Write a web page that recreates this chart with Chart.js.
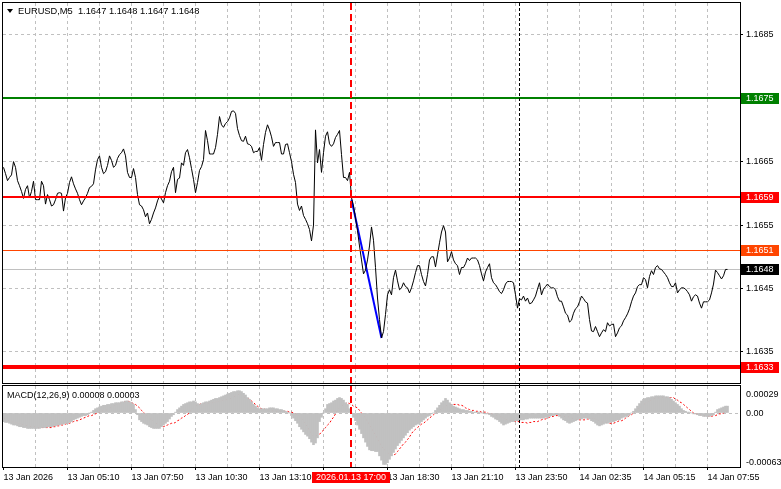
<!DOCTYPE html>
<html>
<head>
<meta charset="utf-8">
<script src="https://cdn.jsdelivr.net/npm/chart.js@4.4.1/dist/chart.umd.min.js"></script>
<style>
  body { margin: 0; background: #fff; width: 781px; height: 489px; overflow: hidden; position: relative; }
  #precio { position: absolute; left: 0; top: 0; }
  #macd { position: absolute; left: 0; top: 385px; }
</style>
</head>
<body>
<canvas id="precio" width="781" height="385"></canvas>
<canvas id="macd" width="781" height="104"></canvas>
<script>
// DATOS: una vela de 5 minutos por posicion (cierre)
const cierres = [
  1.16641,1.16631,1.16620,1.16625,1.16629,1.16650,1.16641,1.16620,1.16612,1.16603,
  1.16592,1.16606,1.16612,1.16593,1.16603,1.16619,1.16590,1.16590,1.16590,1.16619,
  1.16612,1.16583,1.16598,1.16590,1.16580,1.16582,1.16590,1.16600,1.16601,1.16600,
  1.16572,1.16593,1.16600,1.16617,1.16626,1.16615,1.16607,1.16600,1.16590,1.16582,
  1.16588,1.16593,1.16600,1.16609,1.16611,1.16615,1.16637,1.16653,1.16659,1.16641,
  1.16631,1.16634,1.16644,1.16659,1.16652,1.16641,1.16644,1.16655,1.16661,1.16664,
  1.16670,1.16659,1.16633,1.16625,1.16625,1.16639,1.16625,1.16598,1.16582,1.16580,
  1.16574,1.16563,1.16569,1.16552,1.16559,1.16569,1.16577,1.16588,1.16596,1.16591,
  1.16585,1.16601,1.16612,1.16619,1.16634,1.16641,1.16601,1.16622,1.16624,1.16648,
  1.16644,1.16664,1.16669,1.16656,1.16639,1.16622,1.16601,1.16617,1.16636,1.16642,
  1.16653,1.16699,1.16683,1.16662,1.16662,1.16662,1.16672,1.16693,1.16721,1.16708,
  1.16704,1.16710,1.16713,1.16719,1.16729,1.16730,1.16726,1.16702,1.16691,1.16683,
  1.16682,1.16690,1.16678,1.16677,1.16674,1.16664,1.16666,1.16666,1.16672,1.16652,
  1.16677,1.16696,1.16708,1.16700,1.16689,1.16674,1.16680,1.16680,1.16680,1.16662,
  1.16662,1.16677,1.16678,1.16664,1.16650,1.16630,1.16617,1.16583,1.16573,1.16580,
  1.16565,1.16559,1.16552,1.16543,1.16525,1.16550,1.16700,1.16648,1.16669,1.16633,
  1.16664,1.16690,1.16697,1.16678,1.16674,1.16678,1.16688,1.16693,1.16699,1.16661,
  1.16625,1.16625,1.16620,1.16633,1.16593,1.16580,1.16561,1.16541,1.16517,1.16495,
  1.16473,1.16479,1.16495,1.16517,1.16547,1.16526,1.16483,1.16435,1.16401,1.16372,
  1.16382,1.16409,1.16440,1.16448,1.16440,1.16467,1.16479,1.16462,1.16448,1.16451,
  1.16459,1.16453,1.16451,1.16443,1.16451,1.16462,1.16475,1.16486,1.16486,1.16472,
  1.16461,1.16454,1.16472,1.16495,1.16500,1.16500,1.16484,1.16503,1.16522,1.16539,
  1.16549,1.16539,1.16492,1.16498,1.16508,1.16495,1.16489,1.16486,1.16472,1.16483,
  1.16483,1.16489,1.16498,1.16494,1.16498,1.16498,1.16498,1.16495,1.16486,1.16473,
  1.16462,1.16476,1.16483,1.16489,1.16467,1.16459,1.16456,1.16451,1.16445,1.16442,
  1.16448,1.16457,1.16461,1.16461,1.16461,1.16459,1.16440,1.16419,1.16434,1.16432,
  1.16438,1.16430,1.16435,1.16426,1.16427,1.16432,1.16438,1.16449,1.16459,1.16440,
  1.16449,1.16453,1.16457,1.16453,1.16451,1.16451,1.16448,1.16437,1.16430,1.16430,
  1.16421,1.16411,1.16408,1.16397,1.16400,1.16411,1.16418,1.16421,1.16429,1.16438,
  1.16434,1.16429,1.16427,1.16401,1.16383,1.16382,1.16390,1.16382,1.16374,1.16380,
  1.16385,1.16382,1.16396,1.16391,1.16393,1.16394,1.16374,1.16380,1.16388,1.16391,
  1.16399,1.16404,1.16410,1.16418,1.16429,1.16438,1.16443,1.16453,1.16456,1.16456,
  1.16467,1.16464,1.16451,1.16469,1.16478,1.16472,1.16483,1.16486,1.16481,1.16480,
  1.16476,1.16472,1.16467,1.16459,1.16453,1.16453,1.16459,1.16443,1.16448,1.16451,
  1.16451,1.16449,1.16445,1.16440,1.16430,1.16437,1.16440,1.16438,1.16427,1.16419,
  1.16429,1.16429,1.16429,1.16432,1.16443,1.16457,1.16479,1.16475,1.16470,1.16465,
  1.16470,1.16480,1.16480
];

// MACD(12,26,9) en puntos (0.00001)
const macdPrincipal = [
  -10,-11,-11,-12,-13,-14,-14,-15,-16,-16, -17,-17,-18,-18,-18,-18,-18,-18,-18,-17,
  -17,-17,-16,-16,-16,-15,-15,-14,-14,-13, -13,-12,-12,-11,-10,-8,-7,-6,-5,-4,
  -3,-3,-2,0,1,3,5,6,7,8, 9,9,10,10,11,11,12,12,12,13,
  13,14,14,13,12,10,4,-2,-8,-10, -12,-13,-14,-16,-17,-18,-18,-18,-18,-16,
  -14,-12,-10,-7,-4,-2,1,4,6,8, 10,11,12,13,13,14,13,11,10,11,
  12,13,13,14,15,16,17,17,18,19, 20,21,22,23,24,25,25,26,26,25,
  23,21,18,16,13,10,8,6,5,5, 5,5,5,6,6,6,5,5,4,4,
  3,2,1,0,-3,-6,-9,-12,-16,-19, -22,-25,-27,-30,-34,-37,-35,-29,-10,-5,
  0,5,10,11,12,14,15,17,18,17, 15,12,10,5,0,-5,-9,-14,-19,-24,
  -29,-34,-39,-43,-44,-44,-45,-45,-50,-55, -60,-60,-58,-54,-50,-46,-42,-38,-35,-32,
  -29,-26,-23,-20,-18,-16,-14,-13,-12,-10, -8,-6,-4,-3,-1,0,3,6,9,12,
  14,17,15,12,10,8,7,6,5,4, 4,3,3,2,2,1,1,1,1,0,
  0,-1,-1,-2,-4,-5,-7,-8,-10,-12, -14,-13,-12,-11,-10,-10,-9,-9,-8,-8,
  -8,-7,-7,-6,-6,-6,-6,-6,-6,-6, -6,-5,-5,-4,-3,-3,-2,-2,-4,-6,
  -8,-9,-11,-12,-11,-10,-9,-8,-7,-7, -6,-6,-6,-7,-9,-10,-12,-14,-15,-14,
  -13,-12,-12,-11,-10,-10,-9,-8,-8,-6, -5,-4,-4,-2,0,2,5,8,11,14,
  16,17,18,18,19,19,20,20,20,20, 20,19,19,18,16,14,12,10,8,5,
  3,2,1,1,0,-1,-1,-2,-3,-3, -4,-4,-4,-4,-3,-2,1,4,5,6,
  7,8,8
];

const macdSenal = [
  -6,-7,-8,-9,-10,-11,-11,-12,-12,-13, -14,-14,-15,-15,-16,-16,-16,-17,-17,-17,
  -17,-17,-17,-17,-17,-16,-16,-15,-15,-14, -14,-13,-12,-12,-11,-10,-9,-9,-8,-7,
  -6,-5,-4,-3,-3,-2,-1,0,1,2, 3,3,4,5,7,8,9,10,11,12,
  13,13,14,13,12,11,10,8,6,3, 1,-2,-4,-6,-8,-10,-12,-13,-14,-15,
  -16,-15,-14,-13,-12,-12,-11,-9,-8,-6, -5,-3,-2,1,4,6,8,10,10,11,
  11,11,11,12,12,12,13,13,14,14, 15,15,16,16,18,19,20,21,22,21,
  19,18,17,16,14,12,10,8,6,5, 5,4,4,3,3,2,2,2,2,2,
  2,2,2,1,1,0,-1,-2,-4,-7, -10,-13,-16,-20,-24,-27,-27,-26,-25,-22,
  -20,-17,-14,-12,-8,-5,-1,3,6,8, 10,11,12,11,10,8,7,6,3,0,
  -3,-7,-10,-14,-18,-22,-26,-30,-35,-39, -42,-44,-46,-48,-49,-49,-48,-45,-42,-39,
  -36,-34,-31,-28,-24,-21,-19,-17,-15,-13, -12,-10,-8,-6,-4,-2,0,2,3,5,
  6,8,9,10,10,10,10,10,9,9, 8,6,5,4,3,3,2,2,2,1,
  1,1,0,-1,-1,-2,-2,-3,-4,-5, -6,-7,-8,-8,-9,-9,-10,-10,-10,-11,
  -11,-11,-12,-11,-11,-10,-10,-10,-9,-8, -7,-7,-6,-5,-4,-4,-3,-3,-3,-3,
  -4,-4,-4,-5,-6,-6,-7,-8,-8,-8, -8,-8,-7,-7,-6,-6,-7,-8,-9,-10,
  -11,-11,-11,-12,-12,-12,-11,-10,-9,-9, -8,-6,-5,-3,-2,0,2,4,6,8,
  10,11,13,14,15,17,17,17,18,18, 18,18,18,18,18,18,16,15,13,12,
  10,8,6,4,2,0,-1,-1,-2,-2, -3,-3,-3,-4,-4,-3,-3,-2,-1,-1,
  0,1,3
];
const PUNTO = 0.00001;

const barrasEtiqueta = [0, 32, 64, 96, 128, 160, 192, 224, 256, 288, 320, 352];
const etiquetasTiempo = ['13 Jan 2026', '13 Jan 05:10', '13 Jan 07:50', '13 Jan 10:30', '13 Jan 13:10', '13 Jan 15:50',
  '13 Jan 18:30', '13 Jan 21:10', '13 Jan 23:50', '14 Jan 02:35', '14 Jan 05:15', '14 Jan 07:55'];
const ticksPrecio = [1.1635, 1.1645, 1.1655, 1.1665, 1.1675, 1.1685];
const ticksMacd = [0.00029, 0, -0.00063];

const niveles = [1.1675, 1.16594, 1.1651, 1.16327];
const precioActual = cierres[cierres.length - 1];
const barrasTendencia = [174, 189];
const preciosTendencia = [1.16590, 1.16372];
const barraMarcada = 174;
const textoMarcado = '2026.01.13 17:00';
const barraSeparador = 258;
const ohlc = [1.1647, 1.1648, 1.1647, 1.1648];
const valoresMacdTitulo = [0.00008, 0.00003];

// ESTILO:
const FUENTE = "'Liberation Sans', Arial, sans-serif";
const GRIS = '#c0c0c0';
const estilosNivel = [
  { color: '#008000', ancho: 2 },
  { color: '#ff0000', ancho: 2 },
  { color: '#ff4500', ancho: 1 },
  { color: '#ff0000', ancho: 4 }
];

function ticksGrilla() {
  const t = [];
  for (let b = 0; b <= 352; b += 16) t.push({ value: b });
  return t;
}

function lineaH(ctx, a, y, color, ancho, dash) {
  const yy = ancho % 2 ? Math.round(y) + 0.5 : Math.round(y);
  ctx.save();
  ctx.strokeStyle = color; ctx.lineWidth = ancho; ctx.setLineDash(dash || []);
  ctx.beginPath(); ctx.moveTo(a.left, yy); ctx.lineTo(a.right, yy); ctx.stroke();
  ctx.restore();
}

function lineaV(ctx, top, bottom, x, color, dash, ancho) {
  ctx.save();
  ctx.strokeStyle = color; ctx.lineWidth = ancho || 1; ctx.setLineDash(dash);
  ctx.beginPath(); ctx.moveTo(x, top); ctx.lineTo(x, bottom); ctx.stroke();
  ctx.restore();
}

function etiqueta(ctx, y, texto, fondo) {
  ctx.save();
  ctx.fillStyle = fondo;
  ctx.fillRect(741, Math.round(y) - 5, 38, 11);
  ctx.fillStyle = '#fff';
  ctx.font = '9px ' + FUENTE;
  ctx.textBaseline = 'middle';
  ctx.fillText(texto, 746, Math.round(y) + 0.5);
  ctx.restore();
}

function marco(ctx, a) {
  ctx.save();
  ctx.strokeStyle = '#000'; ctx.lineWidth = 1;
  ctx.strokeRect(a.left - 0.5, a.top - 0.5, a.right - a.left + 1, a.bottom - a.top + 1);
  ctx.restore();
}

const pluginPrecio = {
  id: 'pluginPrecio',
  beforeDatasetsDraw(chart) {
    const { ctx, chartArea: a, scales: { y } } = chart;
    lineaH(ctx, a, y.getPixelForValue(precioActual), GRIS, 1);
  },
  afterDatasetsDraw(chart) {
    const { ctx, chartArea: a, scales: { x, y } } = chart;
    niveles.forEach((n, i) => lineaH(ctx, a, y.getPixelForValue(n), estilosNivel[i].color, estilosNivel[i].ancho));
    lineaV(ctx, a.top, chart.height, x.getPixelForValue(barraSeparador), '#000', [3, 2]);
    lineaV(ctx, a.top, chart.height, Math.floor(x.getPixelForValue(barraMarcada)), '#ff0000', [7, 4], 2);
  },
  afterDraw(chart) {
    const { ctx, chartArea: a, scales: { y } } = chart;
    marco(ctx, a);
    niveles.forEach((n, i) => etiqueta(ctx, y.getPixelForValue(n), n.toFixed(4), estilosNivel[i].color));
    etiqueta(ctx, y.getPixelForValue(precioActual), precioActual.toFixed(4), '#000');
    // titulo
    ctx.save();
    ctx.fillStyle = '#000';
    ctx.beginPath(); ctx.moveTo(7, 9); ctx.lineTo(13, 9); ctx.lineTo(10, 13); ctx.closePath(); ctx.fill();
    ctx.font = '9.3px ' + FUENTE;
    ctx.textBaseline = 'middle';
    ctx.fillText('EURUSD,M5  ' + ohlc.map(v => v.toFixed(4)).join(' '), 18, 11.5);
    ctx.restore();
  }
};

const pluginMacd = {
  id: 'pluginMacd',
  afterDatasetsDraw(chart) {
    const { ctx, chartArea: a, scales: { x } } = chart;
    lineaV(ctx, 0, a.bottom, x.getPixelForValue(barraSeparador), '#000', [3, 2]);
    lineaV(ctx, 0, a.bottom, Math.floor(x.getPixelForValue(barraMarcada)), '#ff0000', [7, 4], 2);
  },
  afterDraw(chart) {
    const { ctx, chartArea: a, scales: { x, y } } = chart;
    marco(ctx, a);
    ctx.save();
    ctx.fillStyle = '#000';
    ctx.font = '9px ' + FUENTE;
    ctx.textBaseline = 'middle';
    ctx.fillText('MACD(12,26,9) ' + valoresMacdTitulo.map(v => v.toFixed(5)).join(' '), 7, a.top + 10);
    // escala derecha
    const posY = [a.top + 8, y.getPixelForValue(0), a.bottom - 5];
    ticksMacd.forEach((v, i) => {
      const txt = v === 0 ? '0.00' : v.toFixed(5);
      ctx.fillText(txt, 746, Math.round(posY[i]) + 0.5);
    });
    // fecha marcada
    const xm = x.getPixelForValue(barraMarcada);
    ctx.fillStyle = '#ff0000';
    ctx.fillRect(Math.round(xm) - 40, a.bottom + 5, 78, 11);
    ctx.fillStyle = '#fff';
    ctx.textAlign = 'center';
    ctx.fillText(textoMarcado, Math.round(xm) - 1, a.bottom + 11);
    ctx.restore();
  }
};

const ejeX = {
  type: 'linear',
  min: -0.25,
  max: 368.25,
  offset: false,
  afterBuildTicks: s => { s.ticks = ticksGrilla(); },
  border: { display: false, dash: [3, 3] }
};

// GRAFICO DE PRECIO
new Chart(document.getElementById('precio'), {
  type: 'line',
  data: {
    datasets: [
      {
        data: cierres.map((c, i) => ({ x: i, y: c })),
        borderColor: '#000', borderWidth: 1, pointRadius: 0, tension: 0
      },
      {
        data: barrasTendencia.map((b, i) => ({ x: b, y: preciosTendencia[i] })),
        borderColor: '#0000ff', borderWidth: 2, pointRadius: 0
      }
    ]
  },
  options: {
    responsive: false,
    animation: false,
    events: [],
    layout: { padding: { left: 3, top: 3, right: 0, bottom: 2 } },
    plugins: { legend: { display: false }, tooltip: { enabled: false } },
    scales: {
      x: Object.assign({}, ejeX, {
        ticks: { display: false },
        grid: { color: ctx => ctx.tick && ctx.tick.value === 0 ? 'rgba(0,0,0,0)' : GRIS, drawTicks: false },
        afterFit: s => { s.height = 0; s.paddingLeft = 0; s.paddingRight = 0; }
      }),
      y: {
        position: 'right',
        min: 1.16301,
        max: 1.16900,
        afterBuildTicks: s => { s.ticks = ticksPrecio.map(v => ({ value: v })); },
        afterFit: s => { s.width = 41; s.paddingTop = 0; s.paddingBottom = 0; },
        ticks: { color: '#000', padding: 3, font: { family: FUENTE, size: 9 }, callback: v => v.toFixed(4) },
        grid: { color: GRIS, drawTicks: true, tickLength: 3, tickColor: '#000', tickBorderDash: [] },
        border: { display: false, dash: [3, 3] }
      }
    }
  },
  plugins: [pluginPrecio]
});

// GRAFICO MACD
new Chart(document.getElementById('macd'), {
  type: 'bar',
  data: {
    datasets: [
      {
        type: 'bar',
        data: macdPrincipal.map((v, i) => ({ x: i, y: v * PUNTO })),
        backgroundColor: GRIS, borderWidth: 0, barThickness: 2
      },
      {
        type: 'line',
        data: macdSenal.map((v, i) => ({ x: i, y: v * PUNTO })),
        borderColor: '#ff0000', borderWidth: 1, borderDash: [2, 2], pointRadius: 0, tension: 0
      }
    ]
  },
  options: {
    responsive: false,
    animation: false,
    events: [],
    layout: { padding: { left: 3, top: 1, right: 0, bottom: 0 } },
    plugins: { legend: { display: false }, tooltip: { enabled: false } },
    scales: {
      x: Object.assign({}, ejeX, {
        ticks: {
          display: true, autoSkip: false, maxRotation: 0, align: 'start', padding: 2,
          color: '#000', font: { family: FUENTE, size: 9 },
          callback: v => { const k = barrasEtiqueta.indexOf(v); return k >= 0 ? etiquetasTiempo[k] : ''; }
        },
        grid: {
          offset: false,
          color: ctx => ctx.tick && ctx.tick.value === 0 ? 'rgba(0,0,0,0)' : GRIS,
          drawTicks: true, tickLength: 3, tickBorderDash: [],
          tickColor: ctx => ctx.tick && barrasEtiqueta.includes(ctx.tick.value) ? '#000' : 'rgba(0,0,0,0)'
        },
        afterFit: s => { s.height = 22; s.paddingLeft = 0; s.paddingRight = 0; }
      }),
      y: {
        position: 'right',
        min: -0.00063,
        max: 0.000315,
        afterBuildTicks: s => { s.ticks = [{ value: 0 }]; },
        afterFit: s => { s.width = 41; s.paddingTop = 0; s.paddingBottom = 0; },
        ticks: { display: false },
        grid: { color: GRIS, drawTicks: false },
        border: { display: false, dash: [3, 3] }
      }
    }
  },
  plugins: [pluginMacd]
});
</script>
</body>
</html>
